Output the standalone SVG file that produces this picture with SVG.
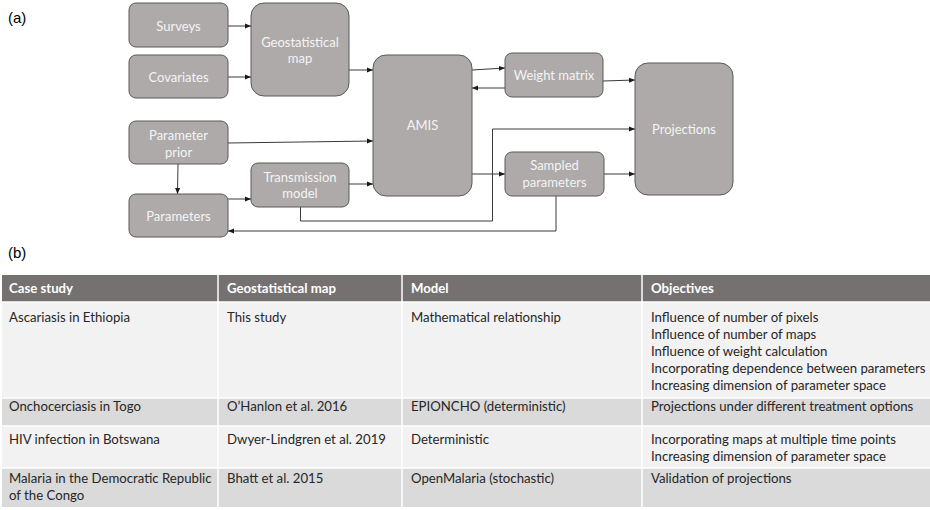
<svg xmlns="http://www.w3.org/2000/svg" width="930" height="510" viewBox="0 0 930 510">
<defs>
<style>
.box{fill:#aeaaaa;stroke:#595959;stroke-width:1}
.bt{font-family:Lato,"Liberation Sans",sans-serif;font-size:13px;fill:#f4f4f4;text-anchor:middle}
.lbl{font-family:"Liberation Sans",Arial,sans-serif;font-size:15px;fill:#000}
.c{fill:none;stroke:#3a3a3a;stroke-width:1}
.th{font-family:Lato,"Liberation Sans",sans-serif;font-size:13.2px;font-weight:bold;fill:#ffffff}
.td{font-family:Lato,"Liberation Sans",sans-serif;font-size:13.2px;fill:#262626}
.sep{stroke:#ffffff;stroke-width:1.5}
</style>
<marker id="ah" viewBox="0 0 6 6" refX="6" refY="3" markerWidth="6" markerHeight="6" markerUnits="userSpaceOnUse" orient="auto">
<path d="M0,0.5 L6,3 L0,5.5 Z" fill="#1a1a1a"/>
</marker>
</defs>
<rect width="930" height="510" fill="#ffffff"/>
<text class="lbl" x="8" y="23">(a)</text>
<text class="lbl" x="8" y="258">(b)</text>

<g id="connectors">
<path class="c" d="M228 26 H251" marker-end="url(#ah)"/>
<path class="c" d="M228 77 H251" marker-end="url(#ah)"/>
<path class="c" d="M349 70 H373" marker-end="url(#ah)"/>
<path class="c" d="M228 143 L373 141" marker-end="url(#ah)"/>
<path class="c" d="M178 164 L177.5 194" marker-end="url(#ah)"/>
<path class="c" d="M228 199 H251" marker-end="url(#ah)"/>
<path class="c" d="M349 184 H373" marker-end="url(#ah)"/>
<path class="c" d="M472 70 L505 68" marker-end="url(#ah)"/>
<path class="c" d="M505 88 H472" marker-end="url(#ah)"/>
<path class="c" d="M603 81 L635 80" marker-end="url(#ah)"/>
<path class="c" d="M472 174 H505" marker-end="url(#ah)"/>
<path class="c" d="M604 174 H635" marker-end="url(#ah)"/>
<path class="c" d="M300.5 207 V221 H492.5 V129 H635" marker-end="url(#ah)"/>
<path class="c" d="M556 196 V231 H228" marker-end="url(#ah)"/>
</g>

<g id="surveys"><rect class="box" x="129" y="3" width="99" height="44" rx="7"/><text class="bt" x="178.5" y="30.5">Surveys</text></g>
<g id="covariates"><rect class="box" x="129" y="55" width="99" height="43" rx="7"/><text class="bt" x="178.5" y="81.5">Covariates</text></g>
<g id="geomap"><rect class="box" x="251" y="3" width="98" height="93" rx="13"/><text class="bt" x="300" y="46.5">Geostatistical</text><text class="bt" x="300" y="63">map</text></g>
<g id="amis"><rect class="box" x="373" y="55" width="99" height="141" rx="13"/><text class="bt" x="422.5" y="130">AMIS</text></g>
<g id="prior"><rect class="box" x="129" y="121" width="99" height="43" rx="7"/><text class="bt" x="178.5" y="139.5">Parameter</text><text class="bt" x="178.5" y="156.5">prior</text></g>
<g id="transmission"><rect class="box" x="251" y="163" width="98" height="44" rx="7"/><text class="bt" x="300" y="181.5">Transmission</text><text class="bt" x="300" y="198">model</text></g>
<g id="parameters"><rect class="box" x="129" y="194" width="99" height="43" rx="7"/><text class="bt" x="178.5" y="220.5">Parameters</text></g>
<g id="weight"><rect class="box" x="505" y="53" width="98" height="44" rx="7"/><text class="bt" x="554" y="79.5">Weight matrix</text></g>
<g id="sampled"><rect class="box" x="505" y="152" width="99" height="44" rx="7"/><text class="bt" x="554.5" y="169.5">Sampled</text><text class="bt" x="554.5" y="186.5">parameters</text></g>
<g id="projections"><rect class="box" x="635" y="63" width="98" height="132" rx="13"/><text class="bt" x="684" y="133.5">Projections</text></g>

<g id="table">
<rect x="2" y="275" width="928" height="27" fill="#767171"/>
<rect x="2" y="302" width="928" height="96" fill="#f2f2f2"/>
<rect x="2" y="398" width="928" height="28" fill="#dadada"/>
<rect x="2" y="426" width="928" height="42" fill="#f2f2f2"/>
<rect x="2" y="468" width="928" height="39" fill="#dadada"/>
<line class="sep" x1="2" y1="302" x2="930" y2="302" stroke-width="2"/>
<line class="sep" x1="2" y1="398" x2="930" y2="398"/>
<line class="sep" x1="2" y1="426" x2="930" y2="426"/>
<line class="sep" x1="2" y1="468" x2="930" y2="468"/>
<line class="sep" x1="218" y1="275" x2="218" y2="507"/>
<line class="sep" x1="402" y1="275" x2="402" y2="507"/>
<line class="sep" x1="642" y1="275" x2="642" y2="507"/>

<text class="th" x="9" y="292.5">Case study</text>
<text class="th" x="227" y="292.5">Geostatistical map</text>
<text class="th" x="411" y="292.5">Model</text>
<text class="th" x="651" y="292.5">Objectives</text>

<text class="td" x="9" y="321.5">Ascariasis in Ethiopia</text>
<text class="td" x="227" y="321.5">This study</text>
<text class="td" x="411" y="321.5">Mathematical relationship</text>
<text class="td" x="651" y="321.5">Influence of number of pixels</text>
<text class="td" x="651" y="338.7">Influence of number of maps</text>
<text class="td" x="651" y="355.9">Influence of weight calculation</text>
<text class="td" x="651" y="373.1">Incorporating dependence between parameters</text>
<text class="td" x="651" y="390.3">Increasing dimension of parameter space</text>

<text class="td" x="9" y="411">Onchocerciasis in Togo</text>
<text class="td" x="227" y="411">O’Hanlon et al. 2016</text>
<text class="td" x="411" y="411">EPIONCHO (deterministic)</text>
<text class="td" x="651" y="411">Projections under different treatment options</text>

<text class="td" x="9" y="443.5">HIV infection in Botswana</text>
<text class="td" x="227" y="443.5">Dwyer-Lindgren et al. 2019</text>
<text class="td" x="411" y="443.5">Deterministic</text>
<text class="td" x="651" y="443.5">Incorporating maps at multiple time points</text>
<text class="td" x="651" y="461">Increasing dimension of parameter space</text>

<text class="td" x="9" y="482.5">Malaria in the Democratic Republic</text>
<text class="td" x="9" y="499.5">of the Congo</text>
<text class="td" x="227" y="482.5">Bhatt et al. 2015</text>
<text class="td" x="411" y="482.5">OpenMalaria (stochastic)</text>
<text class="td" x="651" y="482.5">Validation of projections</text>
</g>
</svg>
